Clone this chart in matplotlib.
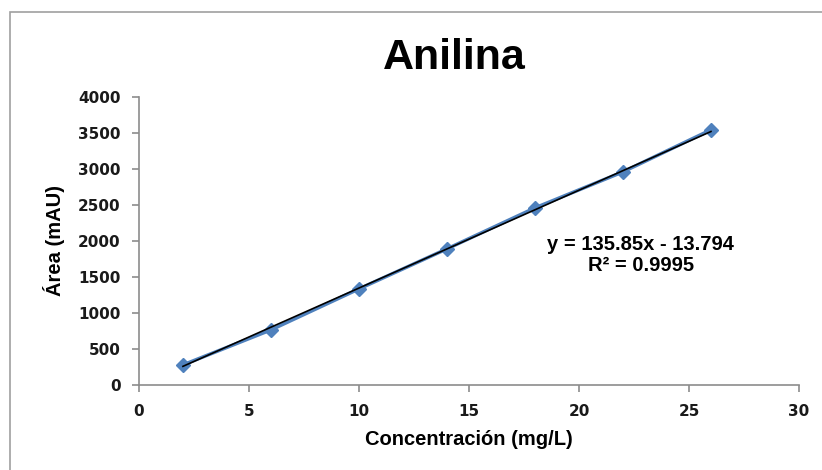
import matplotlib.pyplot as plt
from matplotlib.patches import Rectangle

conc = [2, 6, 10, 14, 18, 22, 26]
area = [278, 764, 1333, 1889, 2458, 2958, 3542]
slope = 135.85
intercept = -13.794
r2 = 0.9995

fig = plt.figure(figsize=(8.22, 4.70), dpi=100)
ax = fig.add_axes([0.169, 0.181, 0.803, 0.613])

# outer chart border (cut off on right and bottom)
fig.patches.append(Rectangle((10 / 822, -0.05), 1.2, 1 - 12 / 470 + 0.05,
                             transform=fig.transFigure, fill=False,
                             edgecolor='#a0a0a0', linewidth=1.2))

ax.plot(conc, area, color='#4f81bd', linewidth=2.5, marker='D', markersize=7,
        markerfacecolor='#4f81bd', markeredgecolor='#4f81bd', zorder=2)
fit = [slope * x + intercept for x in (conc[0], conc[-1])]
ax.plot([conc[0], conc[-1]], fit, color='black', linewidth=1.2, zorder=3)

ax.set_xlim(0, 30)
ax.set_ylim(0, 4000)
ax.set_xticks(range(0, 31, 5))
ax.set_yticks(range(0, 4001, 500))

for s in ['top', 'right']:
    ax.spines[s].set_visible(False)
for s in ['left', 'bottom']:
    ax.spines[s].set_color('#8c8c8c')
    ax.spines[s].set_linewidth(1.2)
ax.tick_params(axis='both', colors='#8c8c8c', length=5, width=1.2,
               labelcolor='#1a1a1a', labelsize=11)
ax.tick_params(axis='x', pad=9)
ax.tick_params(axis='y', pad=8)
for lbl in ax.get_xticklabels() + ax.get_yticklabels():
    lbl.set_fontweight('bold')

ax.set_xlabel('Concentración (mg/L)', family='Liberation Sans', fontweight='bold',
              fontsize=14.5, labelpad=8)
ax.set_ylabel('Área (mAU)', family='Liberation Sans', fontweight='bold',
              fontsize=14.5)
ax.yaxis.set_label_coords(-0.112, 0.5)
fig.text(0.553, 0.876, 'Anilina', family='Liberation Sans', fontweight='bold',
         fontsize=31, ha='center', va='center')

ax.text(22.8, 1800, 'y = %.2fx - %.3f\nR² = %.4f' % (slope, -intercept, r2),
        family='Liberation Sans', fontweight='bold', fontsize=14.5,
        ha='center', va='center', linespacing=1.15)

fig.savefig('out.png', dpi=100)
